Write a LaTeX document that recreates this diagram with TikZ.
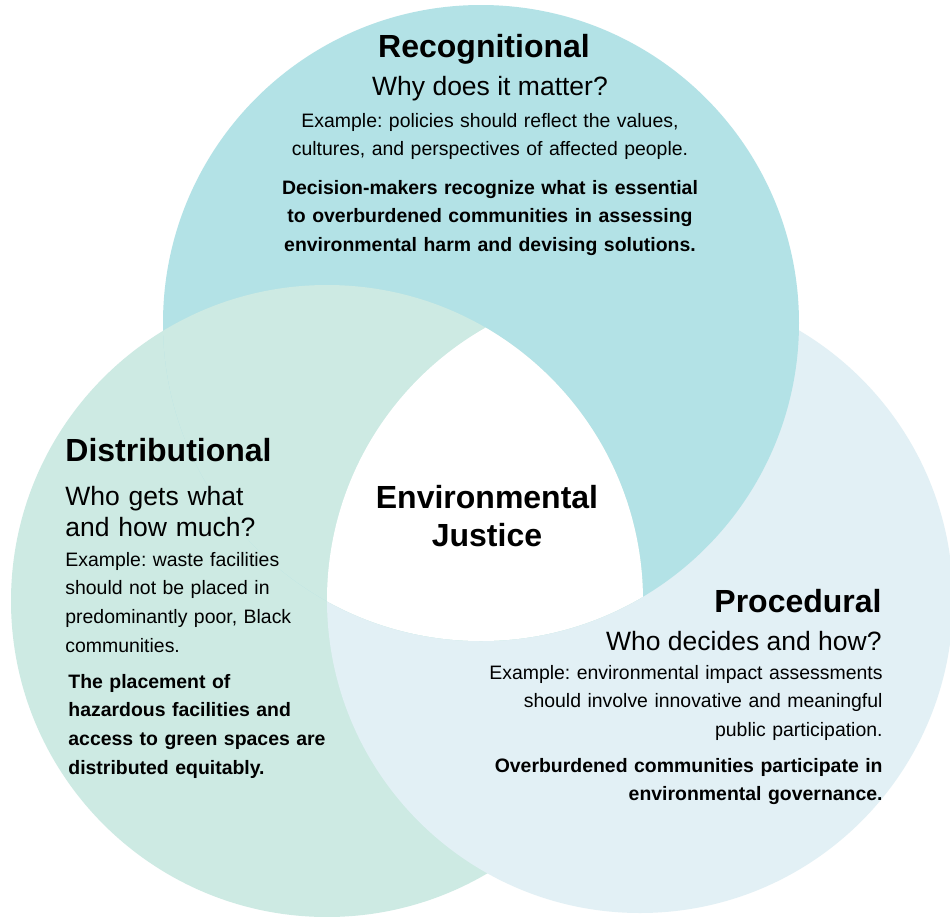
\documentclass[tikz,border=0pt]{standalone}
\usepackage{fontspec}
\setmainfont{Liberation Sans}
\frenchspacing
\definecolor{recogteal}{RGB}{179,226,230}
\definecolor{distgreen}{RGB}{205,234,227}
\definecolor{procblue}{RGB}{226,240,245}

\begin{document}
\begin{tikzpicture}[x=0.5pt, y=-0.5pt,
    ttl/.style={font=\fontsize{16}{19}\selectfont\bfseries, inner sep=0},
    ask/.style={font=\fontsize{13.25}{15.7}\selectfont, inner sep=0},
    body/.style={font=\fontsize{9.72}{14.4}\selectfont, inner sep=0},
    goal/.style={font=\fontsize{9.72}{14.4}\selectfont\bfseries, inner sep=0}]
  % Page
  \fill[white] (0,0) rectangle (950,917);
  \useasboundingbox (0,0) rectangle (950,917);

  % Circle centres
  \coordinate (rcen) at (481,323);
  \coordinate (dcen) at (327,601);
  \coordinate (pcen) at (640,600);

  % Three circles: blue over green, teal over both
  \fill[distgreen] (dcen) circle (316);
  \fill[procblue] (pcen) circle (313);
  \fill[recogteal] (rcen) circle (318);

  % Green wins over teal, white in the middle
  \begin{scope}
    \clip (rcen) circle (318);
    \fill[distgreen] (dcen) circle (316);
  \end{scope}
  \begin{scope}
    \clip (rcen) circle (318);
    \clip (dcen) circle (316);
    \fill[white] (pcen) circle (313);
  \end{scope}

  % Recognitional
  \node[ttl, anchor=base] (rtitle) at (484,57) {Recognitional};
  \node[ask, anchor=base] (rask) at (490,95) {Why does it matter?};
  \node[body, anchor=base, text width=230pt, align=center] (rexample) at (490,127)
    {Example: policies should reflect the values,\\
     cultures, and perspectives of affected people.};
  \node[goal, anchor=base, text width=230pt, align=center] (rgoal) at (490,194)
    {Decision-makers recognize what is essential\\
     to overburdened communities in assessing\\
     environmental harm and devising solutions.};

  % Distributional
  \node[ttl, anchor=base west] (dtitle) at (65,461) {Distributional};
  \node[ask, anchor=base west, text width=150pt, align=left] (dask) at (65,505)
    {Who gets what\\ and how much?};
  \node[body, anchor=base west, text width=150pt, align=left] (dexample) at (65,566)
    {Example: waste facilities\\
     should not be placed in\\
     predominantly poor, Black\\
     communities.};
  \node[goal, anchor=base west, text width=150pt, align=left] (dgoal) at (68,688)
    {The placement of\\
     hazardous facilities and\\
     access to green spaces are\\
     distributed equitably.};

  % Procedural
  \node[ttl, anchor=base east] (ptitle) at (882,612) {Procedural};
  \node[ask, anchor=base east] (pask) at (882,650) {Who decides and how?};
  \node[body, anchor=base east, text width=210pt, align=right] (pexample) at (883,679)
    {Example: environmental impact assessments\\
     should involve innovative and meaningful\\
     public participation.};
  \node[goal, anchor=base east, text width=210pt, align=right] (pgoal) at (883,772)
    {Overburdened communities participate in\\
     environmental governance.};

  % Centre
  \node[ttl, anchor=base, text width=150pt, align=center] (ej) at (487,508)
    {Environmental\\ Justice};
\end{tikzpicture}
\end{document}
